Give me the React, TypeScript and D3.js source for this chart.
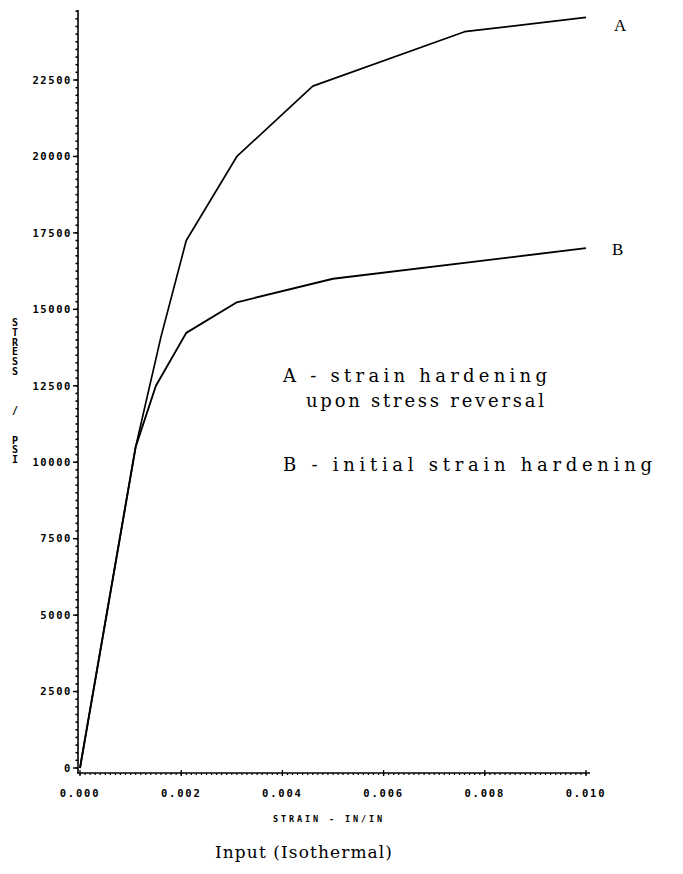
import React from "react";
import * as d3 from "d3";

// Stress–strain curves (strain in in/in, stress in psi)
const strainA = [0, 0.0011, 0.0016, 0.0021, 0.0031, 0.0046, 0.0076, 0.01];
const stressA = [0, 10500, 14100, 17250, 20000, 22300, 24080, 24550];
const strainB = [0, 0.0011, 0.0015, 0.0021, 0.0031, 0.005, 0.01];
const stressB = [0, 10500, 12500, 14230, 15230, 16000, 17000];

const xTicks = [0, 0.002, 0.004, 0.006, 0.008, 0.01];
const xTickLabels = ["0.000", "0.002", "0.004", "0.006", "0.008", "0.010"];
const yTicks = [0, 2500, 5000, 7500, 10000, 12500, 15000, 17500, 20000, 22500];

const W = 683;
const H = 874;

export default function App() {
  const x = d3.scaleLinear().domain([0, 0.01]).range([80, 586]);
  const y = d3.scaleLinear().domain([0, 22500]).range([768, 80]);

  const axisX = 78; // vertical axis line
  const axisY = 773; // horizontal axis line
  const yTop = 10;

  const line = d3
    .line<[number, number]>()
    .x((d) => x(d[0]))
    .y((d) => y(d[1]));

  const ptsA = strainA.map((s, i) => [s, stressA[i]] as [number, number]);
  const ptsB = strainB.map((s, i) => [s, stressB[i]] as [number, number]);

  // minor ticks
  const yMinor = d3.range(0, 25000, 250).filter((v) => y(v) >= yTop);
  const xMinor = d3.range(0, 0.01001, 0.0001);

  const tickFont = "'DejaVu Sans Mono', monospace";
  const typeFont = "'DejaVu Serif', 'Liberation Serif', serif";

  const yTitle = "STRESS   /  PSI".split("");

  return (
    <svg
      width={W}
      height={H}
      style={{ position: "absolute", left: 0, top: 0, background: "#fff" }}
    >
      <rect width={W} height={H} fill="#fff" />

      {/* vertical axis */}
      <line x1={axisX} x2={axisX} y1={yTop} y2={axisY} stroke="#000" strokeWidth={1.6} />
      {yMinor.map((v) => (
        <line key={"ym" + v} x1={axisX - 2.5} x2={axisX} y1={y(v)} y2={y(v)} stroke="#000" strokeWidth={1.6} />
      ))}
      {yTicks.map((v) => (
        <g key={"yt" + v}>
          <line x1={axisX - 5} x2={axisX} y1={y(v)} y2={y(v)} stroke="#000" strokeWidth={1.4} />
          <text
            x={72}
            y={y(v) + 3.8}
            textAnchor="end"
            fontFamily={tickFont}
            fontWeight="bold"
            fontSize={10.5}
            letterSpacing={1.6}
            fill="#000"
          >
            {v}
          </text>
        </g>
      ))}

      {/* horizontal axis */}
      <line x1={axisX - 1} x2={x(0.01) + 4} y1={axisY} y2={axisY} stroke="#000" strokeWidth={1.6} />
      {xMinor.map((v, i) => (
        <line key={"xm" + i} x1={x(v)} x2={x(v)} y1={axisY} y2={axisY + 2} stroke="#000" strokeWidth={1.2} />
      ))}
      {xTicks.map((v, i) => (
        <g key={"xt" + i}>
          <line x1={x(v)} x2={x(v)} y1={axisY - 3} y2={axisY + 3} stroke="#000" strokeWidth={1.3} />
          <text
            x={x(v)}
            y={797}
            textAnchor="middle"
            fontFamily={tickFont}
            fontWeight="bold"
            fontSize={10.5}
            letterSpacing={1.8}
            fill="#000"
          >
            {xTickLabels[i]}
          </text>
        </g>
      ))}

      {/* axis titles */}
      <text
        x={329}
        y={822}
        textAnchor="middle"
        fontFamily={tickFont}
        fontWeight="bold"
        fontSize={8.5}
        letterSpacing={2.9}
        fill="#000"
      >
        STRAIN - IN/IN
      </text>
      {yTitle.map((c, i) =>
        c === " " ? null : (
          <text
            key={"yl" + i}
            x={15}
            y={326 + i * 9.8}
            textAnchor="middle"
            fontFamily={tickFont}
            fontWeight="bold"
            fontSize={10}
            fill="#000"
          >
            {c}
          </text>
        )
      )}

      {/* curves */}
      <path d={line(ptsA) ?? ""} fill="none" stroke="#000" strokeWidth={1.7} strokeLinejoin="round" />
      <path d={line(ptsB) ?? ""} fill="none" stroke="#000" strokeWidth={1.9} strokeLinejoin="round" />

      {/* curve labels */}
      <text x={614} y={31} fontFamily="'Liberation Serif', serif" fontSize={17} fill="#000">
        A
      </text>
      <text x={612} y={255} fontFamily="'Liberation Serif', serif" fontSize={17} fill="#000">
        B
      </text>

      {/* annotations */}
      <g fontFamily={typeFont} fontSize={18} fill="#000">
        <text x={283} y={382} textLength={264} lengthAdjust="spacing">A - strain hardening</text>
        <text x={306} y={407} textLength={238} lengthAdjust="spacing">upon stress reversal</text>
        <text x={283} y={471} textLength={369} lengthAdjust="spacing">B - initial strain hardening</text>
      </g>

      <text x={215} y={858} fontFamily={typeFont} fontSize={17} fill="#000" textLength={177} lengthAdjust="spacing">
        Input (Isothermal)
      </text>
    </svg>
  );
}
